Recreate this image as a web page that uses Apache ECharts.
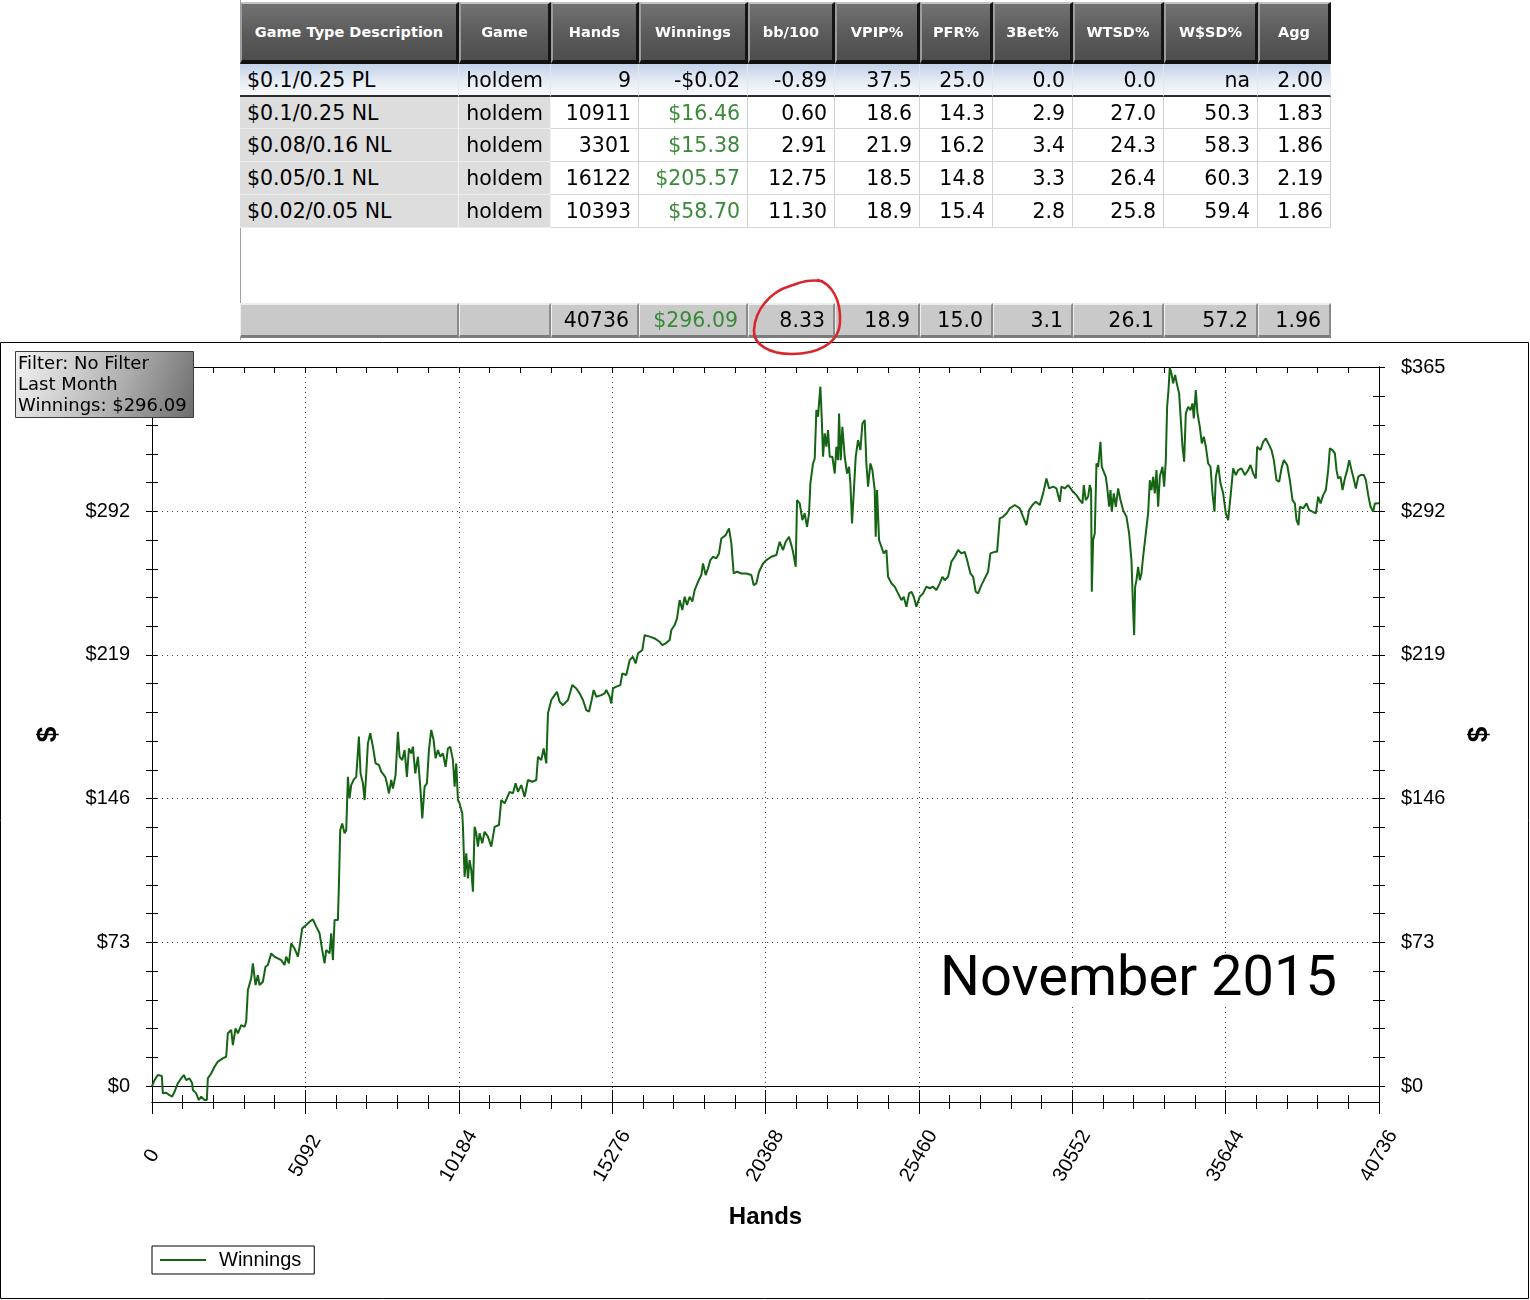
<!DOCTYPE html>
<html>
<head>
<meta charset="utf-8">
<title>Winnings - November 2015</title>
<script src="https://cdn.jsdelivr.net/npm/echarts@6/dist/echarts.min.js"></script>
<style>
html, body { margin: 0; padding: 0; background: #fff; }
#chart { position: absolute; left: 0; top: 0; width: 1530px; height: 1300px; }
#stats { position: absolute; left: 0; top: 0; width: 1530px; height: 342px; z-index: 2; }
#stats div { position: absolute; box-sizing: border-box; white-space: nowrap; overflow: hidden;
  display: flex; align-items: center; }
#stats .head { top: 2px; height: 62px; justify-content: center; color: #fff;
  font: bold 14.5px "DejaVu Sans", Verdana, sans-serif;
  background: linear-gradient(#727272, #5a5a5a 55%, #4e4e4e);
  border-top: 2px solid #c4c4c4; border-left: 2px solid #9c9c9c;
  border-right: 3px solid #141414; border-bottom: 4px solid #111; }
#stats .cell { font: 20.5px "DejaVu Sans", Verdana, sans-serif; color: #000;
  justify-content: flex-end; padding-right: 7px;
  border-right: 1px solid #d2d2d2; border-bottom: 1px solid #d6d6d6; background: #fff; }
#stats .cell.first { justify-content: flex-start; padding-left: 7px; }
#stats .cell.key { background: #dddddd; border-right-color: #f2f2f2; border-bottom-color: #ececec; }
#stats .cell.sel { background: linear-gradient(#c2d2e8, #e8eef6 60%, #f7f9fc);
  border-bottom: 2px solid #2b2b2b; border-right-color: #e4e8ee; }
#stats .cell.total { background: #c9c9c9; border-top: 2px solid #ececec; border-left: 1px solid #efefef;
  border-right: 2px solid #8a8a8a; border-bottom: 3px solid #7c7c7c; padding-right: 8px; }
#stats .edge { left: 240px; top: 0; width: 1px; height: 340px; background: #a0a0a0; }
#mark { position: absolute; left: 0; top: 0; z-index: 3; pointer-events: none; }
</style>
</head>
<body>
<div id="chart"></div>
<div id="stats"></div>
<svg id="mark" width="1530" height="400">
  <path d="M 818 280 C 832 284, 841 300, 840 322 C 839 345, 815 354, 792 354 C 770 354, 753 345, 754 330 C 755 310, 770 292, 790 286 C 800 283, 807 279, 822 281"
        fill="none" stroke="#d8262a" stroke-width="2.6" stroke-linecap="round"/>
</svg>
<script>
// ---- stats table (top) ----
var statColumns = ['Game Type Description', 'Game', 'Hands', 'Winnings', 'bb/100', 'VPIP%', 'PFR%', '3Bet%', 'WTSD%', 'W$SD%', 'Agg'];
var statRows = [
  ['$0.1/0.25 PL', 'holdem', '9', '-$0.02', '-0.89', '37.5', '25.0', '0.0', '0.0', 'na', '2.00'],
  ['$0.1/0.25 NL', 'holdem', '10911', '$16.46', '0.60', '18.6', '14.3', '2.9', '27.0', '50.3', '1.83'],
  ['$0.08/0.16 NL', 'holdem', '3301', '$15.38', '2.91', '21.9', '16.2', '3.4', '24.3', '58.3', '1.86'],
  ['$0.05/0.1 NL', 'holdem', '16122', '$205.57', '12.75', '18.5', '14.8', '3.3', '26.4', '60.3', '2.19'],
  ['$0.02/0.05 NL', 'holdem', '10393', '$58.70', '11.30', '18.9', '15.4', '2.8', '25.8', '59.4', '1.86']
];
var statTotals = ['', '', '40736', '$296.09', '8.33', '18.9', '15.0', '3.1', '26.1', '57.2', '1.96'];

// ---- winnings curve [hands, $] ----
var curveStart = [
  [0,0],[83,3.0],[194,5.6],[327,5.1],[360,-3.7],[471,-3.4],[581,-4.6],[670,-5.4],[747,-2.9],[858,1.4],
  [969,3.9],[1057,5.6],[1135,3.0],[1245,3.9],[1334,1.4],[1356,-2.0],[1467,-3.7],[1555,-7.1],[1633,-5.4],[1744,-7.1],
  [1821,-7.1],[1854,3.9],[1965,6.4],[2076,9.8],[2186,12.4],[2352,14.1],[2463,14.9],[2518,26.8],[2629,28.5],[2685,20.8],
  [2773,29.3],[2851,26.8],[2961,31.0],[3072,30.1],[3127,32.7],[3183,48.8],[3293,54.7],[3349,62.3],[3437,51.3],[3515,56.4],
  [3570,51.3],[3681,53.0],[3769,60.6],[3847,61.5],[3958,67.4],[4068,65.7],[4179,64.9],[4290,64.0],[4400,61.5],[4456,65.7],
  [4544,62.3],[4622,72.5],[4732,69.9],[4843,65.7],[4899,70.8],[4987,80.1],[5120,81.8],[5231,83.5],[5341,84.7],[5452,81.0],
  [5563,77.6],[5651,69.1],[5729,62.3],[5784,69.1],[5895,67.4],[5950,77.6],[6006,64.0],[6061,84.3],[6172,84.3],[6205,102.1],
  [6249,130.0],[6315,133.4],[6393,128.4],[6448,130.0],[6504,157.1],[6559,146.1],[6614,152.9],[6692,155.5],[6780,157.1],[6869,177.5],
  [6924,158.8],[7002,153.8],[7057,145.3],[7113,158.8],[7168,174.1],[7246,179.2],[7334,172.4],[7423,163.9],[7533,163.1],[7611,159.7],
  [7666,158.8],[7743,157.1],[7799,153.8],[7865,148.7],[7943,155.5],[7998,151.2],[8087,158.0],[8164,180.0],[8220,167.3],[8308,165.6],
  [8386,170.7],[8463,157.1],[8530,171.5],[8607,169.0],[8662,172.4],[8740,158.8],[8829,167.3],[8906,152.1],[8973,136.0],[9050,152.1],
  [9127,153.8],[9194,170.7],[9271,180.9],[9349,175.8],[9415,166.5],[9493,170.7],[9570,167.3],[9659,169.0],[9747,162.2],[9825,171.5],
  [9902,172.4]
];
var curveClimb = [
  [9991,165.6],[10046,152.1],[10101,163.9],[10157,145.3],[10212,143.6],[10301,138.5],[10323,131.7],[10378,106.3],[10434,118.2],[10489,105.5],
  [10544,114.8],[10600,109.7],[10655,98.7],[10710,131.7],[10766,128.4],[10821,121.6],[10876,128.4],[10965,123.3],[11042,129.2],[11153,126.7],
  [11264,121.6],[11374,131.7],[11518,132.6],[11596,145.3],[11707,143.6],[11873,149.5],[11983,148.7],[12072,153.8],[12149,149.5],[12260,152.9],
  [12371,146.9],[12481,155.5],[12625,154.6],[12758,155.5],[12814,167.3],[12924,165.6],[13002,171.5],[13090,163.9],[13146,189.3],[13256,196.1],
  [13367,198.6],[13445,200.3],[13533,195.2],[13644,193.5],[13810,196.1],[13954,203.7],[14087,202.0],[14197,199.5],[14308,196.1],[14419,191.0],
  [14507,190.2],[14585,195.2],[14662,201.2],[14751,197.8],[14917,198.6],[15028,199.5],[15083,201.2],[15194,197.8],[15249,194.4],[15304,202.0],
  [15415,202.9],[15548,203.7],[15614,209.6],[15747,208.8],[15858,216.4],[15969,218.1],[16057,214.7],[16135,219.8],[16278,221.5],[16356,229.1],
  [16522,228.3],[16688,227.4],[16854,225.7],[16943,224.0],[17053,224.9],[17186,226.6],[17242,231.7],[17352,234.2],[17430,237.6],[17518,246.9],
  [17607,241.8],[17684,248.6],[17762,244.4],[17850,248.6],[17939,246.1],[18016,252.0],[18127,256.2],[18238,259.6],[18293,265.5],[18382,259.6],
  [18459,263.0],[18537,267.2],[18625,268.9],[18736,268.1],[18824,270.6],[18902,278.2],[19046,279.9],[19157,283.3],[19234,275.7],[19312,260.4],
  [19422,261.3],[19566,260.4],[19732,260.4],[19898,259.6],[19976,254.5],[20064,255.4],[20153,261.3]
];
var curvePeak = [
  [20286,265.5],[20396,267.2],[20562,268.9],[20729,269.8],[20839,276.5],[20950,272.3],[21038,276.5],[21149,279.1],[21227,274.8],[21282,271.4],
  [21371,263.8],[21415,297.7],[21503,296.0],[21592,287.5],[21669,290.9],[21747,284.1],[21813,290.9],[21858,306.2],[21946,316.3],[22002,318.8],
  [22057,343.4],[22112,340.0],[22145,346.8],[22190,355.3],[22234,340.0],[22278,319.7],[22334,331.6],[22389,324.8],[22444,333.3],[22500,319.7],
  [22588,319.7],[22666,311.2],[22721,324.8],[22776,318.0],[22810,341.7],[22865,318.0],[22920,334.9],[22998,319.7],[23075,311.2],[23142,314.6],
  [23186,306.2],[23241,285.8],[23297,301.1],[23363,319.7],[23441,328.2],[23518,323.1],[23585,336.6],[23662,338.3],[23717,316.3],[23773,304.5],
  [23850,316.3],[23917,312.9],[23994,302.8],[24027,279.1],[24072,302.8],[24138,277.4],[24216,274.0],[24293,270.6],[24382,272.3],[24437,258.7],
  [24548,255.4],[24658,253.7],[24769,250.3],[24880,246.9],[24957,248.6],[25046,243.5],[25134,250.3],[25212,251.1],[25289,248.6],[25378,243.5],
  [25489,248.6],[25599,250.3],[25710,253.7],[25821,252.9],[25931,253.7],[26042,252.0],[26153,255.4],[26241,258.7],[26319,257.0],[26430,258.7],
  [26540,266.4],[26651,268.9],[26762,272.3],[26872,270.6],[26983,271.4],[27061,267.2],[27171,260.4],[27260,258.7],[27348,251.1],[27426,250.3],
  [27537,254.5],[27647,257.9],[27758,261.3],[27835,270.6],[27979,271.4],[28057,271.4],[28145,288.4],[28256,289.2],[28367,290.9],[28478,293.5],
  [28644,295.2],[28810,293.5],[28920,289.2],[29031,285.0],[29120,292.6],[29230,295.2],[29341,296.8],[29474,295.2],[29585,301.1],[29695,308.7],
  [29784,303.6],[29917,304.5],[30027,303.6],[30138,296.8],[30193,304.5],[30304,303.6],[30415,305.3]
];
var curveEnd = [
  [30581,301.9],[30691,300.2],[30802,297.7],[30891,296.0],[30935,305.3],[31001,297.7],[31079,299.4],[31134,305.3],[31178,302.8],[31201,251.1],
  [31245,277.4],[31300,280.8],[31356,316.3],[31411,314.6],[31444,319.7],[31488,327.3],[31533,314.6],[31599,314.6],[31666,309.5],[31710,304.5],
  [31776,294.3],[31821,302.8],[31865,291.8],[31931,301.1],[31998,294.3],[32075,303.6],[32153,297.7],[32241,292.6],[32352,289.2],[32440,280.8],
  [32518,267.2],[32573,241.8],[32607,229.1],[32640,253.7],[32684,257.0],[32739,263.8],[32795,257.0],[32850,260.4],[32905,268.9],[32994,280.8],
  [33071,290.9],[33127,307.8],[33182,302.8],[33238,309.5],[33293,301.1],[33348,312.9],[33404,294.3],[33459,309.5],[33547,314.6],[33603,304.5],
  [33658,318.0],[33702,345.1],[33747,353.6],[33791,365.0],[33846,362.0],[33902,357.0],[33968,361.2],[34035,356.1],[34101,351.9],[34156,351.9],
  [34212,324.8],[34267,317.2],[34322,341.7],[34400,345.1],[34477,343.4],[34544,346.8],[34588,339.2],[34654,353.6],[34710,341.7],[34787,334.9],
  [34854,326.5],[34920,329.9],[34987,324.8],[35064,316.3],[35142,314.6],[35208,301.1],[35274,291.8],[35319,309.5],[35396,315.5],[35474,306.2],
  [35562,301.1],[35651,290.9],[35728,287.5],[35806,299.4],[35894,313.8],[35983,310.4],[36060,312.9],[36171,313.8],[36282,310.4],[36392,312.9],
  [36470,315.5],[36559,311.2],[36647,308.7],[36691,324.8],[36802,323.1],[36891,327.3],[36979,329.0],[37090,325.6],[37167,323.1],[37245,318.0],
  [37333,307.8],[37422,307.0],[37499,313.8],[37577,318.0],[37688,315.5],[37776,307.8],[37865,297.7],[37942,296.0],[37998,287.5],[38064,285.0],
  [38108,294.3],[38219,293.5],[38330,296.0],[38418,292.6],[38529,291.8],[38640,290.9],[38717,299.4],[38795,296.0],[38883,300.2],[38972,302.8],
  [39049,312.9],[39105,324.0],[39193,323.1],[39271,321.4],[39326,312.9],[39381,308.7],[39459,309.5],[39525,302.8],[39603,308.7],[39680,312.9],
  [39747,318.0],[39824,312.9],[39880,309.5],[39968,303.6],[40046,309.5],[40123,310.4],[40234,310.4],[40300,307.8],[40378,300.2],[40455,294.3],
  [40544,291.8],[40599,296.0],[40736,296.09]
];

// ---- axis ticks ----
var handsTotal = 40736;
var handsStep = 5092;
var dollarTicks = [0, 73, 146, 219, 292, 365];
var dollarMin = -8.1;
var dollarMax = 365.3;

var infoLines = ['Filter: No Filter', 'Last Month', 'Winnings: $296.09'];
var monthLabel = 'November 2015';

// ---------------------------------------------------------------
// table
var colEdges = [240, 459, 551, 639, 748, 835, 920, 993, 1073, 1164, 1258, 1331];
var rowTops = [64, 97, 129, 162, 195, 228];
var stats = document.getElementById('stats');

function addBox(cls, left, top, width, height, text, color) {
  var d = document.createElement('div');
  d.className = cls;
  d.style.left = left + 'px';
  d.style.top = top + 'px';
  d.style.width = width + 'px';
  if (height) d.style.height = height + 'px';
  d.textContent = text;
  if (color) d.style.color = color;
  stats.appendChild(d);
}

var edge = document.createElement('div');
edge.className = 'edge';
stats.appendChild(edge);

statColumns.forEach(function (name, c) {
  addBox('head', colEdges[c], 2, colEdges[c + 1] - colEdges[c], 0, name);
});

function moneyColor(text, c) {
  return (c === 3 && text.charAt(0) === '$') ? '#3a8a3a' : null;
}

statRows.forEach(function (row, r) {
  row.forEach(function (text, c) {
    var cls = 'cell' + (c === 0 ? ' first' : '') + (r === 0 ? ' sel' : (c < 2 ? ' key' : ''));
    addBox(cls, colEdges[c], rowTops[r], colEdges[c + 1] - colEdges[c], rowTops[r + 1] - rowTops[r], text, moneyColor(text, c));
  });
});

statTotals.forEach(function (text, c) {
  addBox('cell total', colEdges[c], 303, colEdges[c + 1] - colEdges[c], 35, text, moneyColor(text, c));
});

// ---------------------------------------------------------------
// chart
var lineGreen = '#146414';
var axisFont = 'Liberation Sans, Arial, sans-serif';
var curve = [].concat(curveStart, curveClimb, curvePeak, curveEnd);

var dollarTickMarks = [];
for (var i = 0; i < dollarTicks.length - 1; i++) {
  var step = (dollarTicks[i + 1] - dollarTicks[i]) / 5;
  for (var k = 0; k < 5; k++) dollarTickMarks.push(Math.round((dollarTicks[i] + k * step) * 100) / 100);
}
dollarTickMarks.push(dollarTicks[dollarTicks.length - 1]);

function handsAxis(position, inside, major, minor, labels) {
  return {
    type: 'value',
    position: position,
    min: 0,
    max: handsTotal,
    interval: handsStep,
    axisLine: { show: true, onZero: false, lineStyle: { color: '#000', width: 1 } },
    axisTick: { show: true, inside: inside, length: major, lineStyle: { color: '#000', width: 1 } },
    minorTick: { show: true, splitNumber: 5, length: minor, lineStyle: { color: '#000', width: 1 } },
    splitLine: { show: labels, lineStyle: { color: '#444', width: 1, type: [1, 4] } },
    axisLabel: {
      show: labels, rotate: 60, align: 'center', verticalAlign: 'middle', margin: 54,
      showMinLabel: true, showMaxLabel: true,
      fontSize: 20, fontFamily: axisFont, color: '#000',
      formatter: function (v) { return String(v); }
    },
    name: labels ? 'Hands' : '',
    nameLocation: 'middle',
    nameGap: 103,
    nameTextStyle: { fontSize: 24, fontWeight: 'bold', fontFamily: axisFont, color: '#000' }
  };
}

function dollarAxis(position, inside, labels) {
  return {
    type: 'value',
    position: position,
    min: dollarMin,
    max: dollarMax,
    axisLine: { show: true, onZero: false, lineStyle: { color: '#000', width: 1 } },
    axisTick: { show: true, inside: inside, length: 6, customValues: dollarTickMarks, lineStyle: { color: '#000', width: 1 } },
    axisLabel: {
      show: labels, customValues: dollarTicks, margin: 22,
      fontSize: 20, fontFamily: axisFont, color: '#000',
      formatter: function (v) { return '$' + v; }
    },
    splitLine: { show: false },
    name: labels ? '$' : '',
    nameLocation: 'middle',
    nameGap: position === 'left' ? 90 : 86,
    nameTextStyle: { fontSize: 28, fontWeight: 'bold', fontFamily: axisFont, color: '#000' }
  };
}

var chart = echarts.init(document.getElementById('chart'));

var infoText = infoLines.map(function (t, n) {
  return {
    type: 'text', z: 101,
    style: { text: t, x: 18, y: 364 + n * 21, fill: '#000',
      font: '18px "DejaVu Sans", Tahoma, sans-serif', verticalAlign: 'middle' }
  };
});

chart.setOption({
  animation: false,
  backgroundColor: '#fff',
  grid: { left: 152, right: 151, top: 367, bottom: 198, containLabel: false, outerBoundsMode: 'none' },
  xAxis: [
    handsAxis('bottom', false, 12, 7, true),
    handsAxis('bottom', true, 12, 7, false),
    handsAxis('top', true, 6, 6, false)
  ],
  yAxis: [
    dollarAxis('left', false, true),
    dollarAxis('left', true, false),
    dollarAxis('right', false, true),
    dollarAxis('right', true, false)
  ],
  legend: {
    data: ['Winnings'],
    left: 152,
    top: 1246,
    icon: 'rect',
    itemWidth: 46,
    itemHeight: 2,
    padding: [4, 13, 4, 8],
    borderColor: '#000',
    borderWidth: 1,
    borderRadius: 0,
    selectedMode: false,
    textStyle: { fontSize: 20, fontFamily: axisFont, color: '#000', padding: [0, 0, 0, 8] }
  },
  series: [{
    name: 'Winnings',
    type: 'line',
    xAxisIndex: 0,
    yAxisIndex: 0,
    data: curve,
    symbol: 'none',
    showSymbol: false,
    silent: true,
    z: 3,
    lineStyle: { color: lineGreen, width: 2 },
    itemStyle: { color: lineGreen },
    markLine: {
      silent: true,
      symbol: 'none',
      z: 1,
      label: { show: false },
      lineStyle: { color: '#444', width: 1, type: [1, 4] },
      data: [{ yAxis: 0, lineStyle: { color: '#000', type: 'solid' } }].concat(
        dollarTicks.slice(1, -1).map(function (v) { return { yAxis: v }; })
      )
    }
  }],
  graphic: [
    { type: 'rect', z: 100, silent: true,
      shape: { x: 0.5, y: 342.5, width: 1528, height: 956 },
      style: { fill: 'none', stroke: '#000', lineWidth: 1 } },
    { type: 'rect', z: 100, silent: true,
      shape: { x: 15.5, y: 351.5, width: 178, height: 66 },
      style: {
        fill: new echarts.graphic.LinearGradient(0, 0, 1, 1, [
          { offset: 0, color: '#f3f3f3' }, { offset: 0.55, color: '#b4b4b4' }, { offset: 1, color: '#6c6c6c' }
        ]),
        stroke: '#3c3c3c', lineWidth: 1
      } },
    { type: 'text', z: 100, silent: true,
      style: { text: monthLabel, x: 938, y: 981, fill: '#000', font: '56px Roboto, sans-serif',
        verticalAlign: 'middle', backgroundColor: '#fff', lineHeight: 46, padding: [0, 2] } }
  ].concat(infoText)
});
</script>
</body>
</html>
